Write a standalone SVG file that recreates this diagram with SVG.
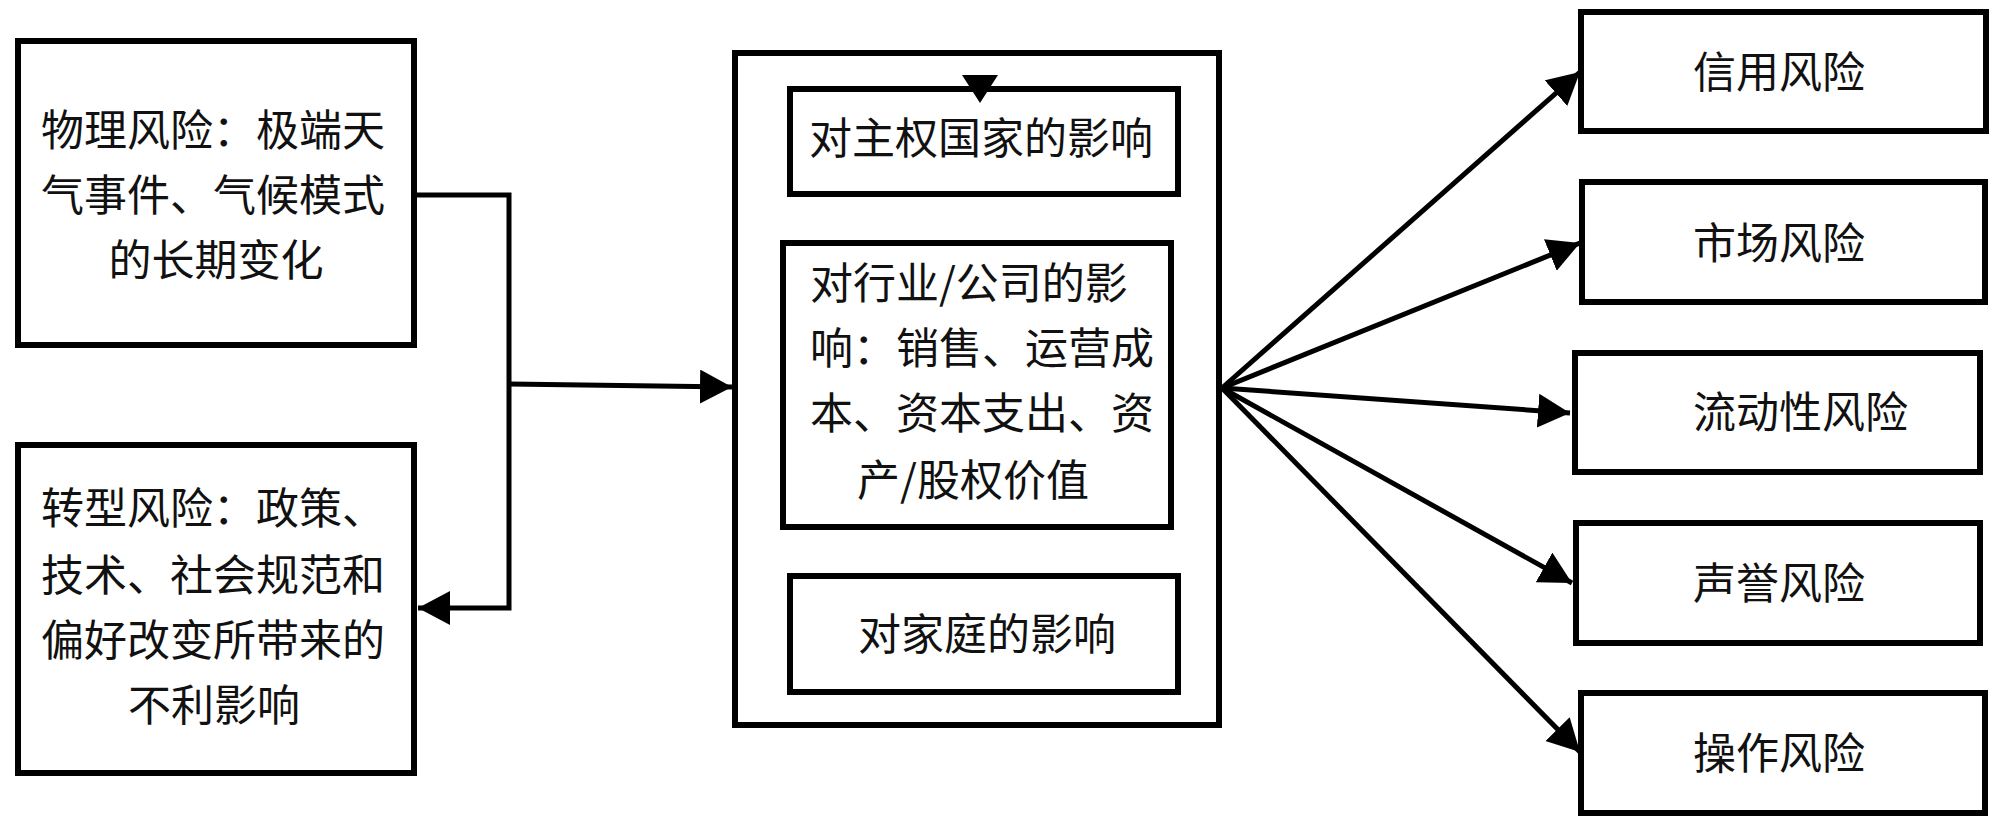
<svg xmlns="http://www.w3.org/2000/svg" width="1999" height="831" viewBox="0 0 1999 831">
<style>
  .box { fill: #fff; stroke: #000; stroke-width: 6; }
  .ibox { fill: none; stroke: #000; stroke-width: 6; }
  .conn { fill: none; stroke: #000; stroke-width: 5; }
  text { font-family: "Noto Sans CJK SC", "Liberation Serif", sans-serif; font-size: 43px; fill: #111; }
  .mid { text-anchor: middle; }
</style>
<defs>
  <marker id="arr" markerUnits="userSpaceOnUse" markerWidth="34" markerHeight="36" refX="32" refY="17" orient="auto">
    <path d="M0,0 L32,17 L0,34 z" fill="#000"/>
  </marker>
</defs>
<rect width="1999" height="831" fill="#fff"/>

<g id="physical">
  <rect class="box" x="18" y="41" width="396" height="304"/>
  <text x="41" y="146">物理风险：极端天</text>
  <text x="41" y="211">气事件、气候模式</text>
  <text class="mid" x="216" y="276">的长期变化</text>
</g>

<g id="transition">
  <rect class="box" x="18" y="445" width="396" height="328"/>
  <text x="41" y="524">转型风险：政策、</text>
  <text x="41" y="591">技术、社会规范和</text>
  <text x="41" y="656">偏好改变所带来的</text>
  <text class="mid" x="214" y="721">不利影响</text>
</g>

<g id="impacts">
  <rect class="box" x="735" y="53" width="484" height="672"/>
  <g id="sovereign">
    <rect class="ibox" x="790" y="89" width="388" height="105"/>
    <text class="mid" x="981" y="154">对主权国家的影响</text>
  </g>
  <g id="industry">
    <rect class="ibox" x="783" y="243" width="388" height="284"/>
    <text x="810" y="299">对行业/公司的影</text>
    <text x="810" y="364">响：销售、运营成</text>
    <text x="810" y="429">本、资本支出、资</text>
    <text class="mid" x="973" y="496">产/股权价值</text>
  </g>
  <g id="household">
    <rect class="ibox" x="790" y="576" width="388" height="116"/>
    <text class="mid" x="987" y="650">对家庭的影响</text>
  </g>
  <path d="M962,75 L998,75 L980,103 z" fill="#000"/>
</g>

<g id="credit">
  <rect class="box" x="1581" y="12" width="405" height="119"/>
  <text x="1693" y="88">信用风险</text>
</g>
<g id="market">
  <rect class="box" x="1582" y="182" width="403" height="120"/>
  <text x="1693" y="259">市场风险</text>
</g>
<g id="liquidity">
  <rect class="box" x="1575" y="353" width="405" height="119"/>
  <text x="1693" y="428">流动性风险</text>
</g>
<g id="reputation">
  <rect class="box" x="1576" y="523" width="404" height="120"/>
  <text x="1693" y="599">声誉风险</text>
</g>
<g id="operational">
  <rect class="box" x="1581" y="693" width="404" height="120"/>
  <text x="1693" y="769">操作风险</text>
</g>

<g id="connectors">
  <path class="conn" d="M414,195 H509 V608 H418" marker-end="url(#arr)"/>
  <path class="conn" d="M509,384 L732,387" marker-end="url(#arr)"/>
  <path class="conn" d="M1222,388 L1580,72" marker-end="url(#arr)"/>
  <path class="conn" d="M1222,388 L1580,243" marker-end="url(#arr)"/>
  <path class="conn" d="M1222,388 L1570,413" marker-end="url(#arr)"/>
  <path class="conn" d="M1222,388 L1572,583" marker-end="url(#arr)"/>
  <path class="conn" d="M1222,388 L1580,752" marker-end="url(#arr)"/>
</g>
</svg>
